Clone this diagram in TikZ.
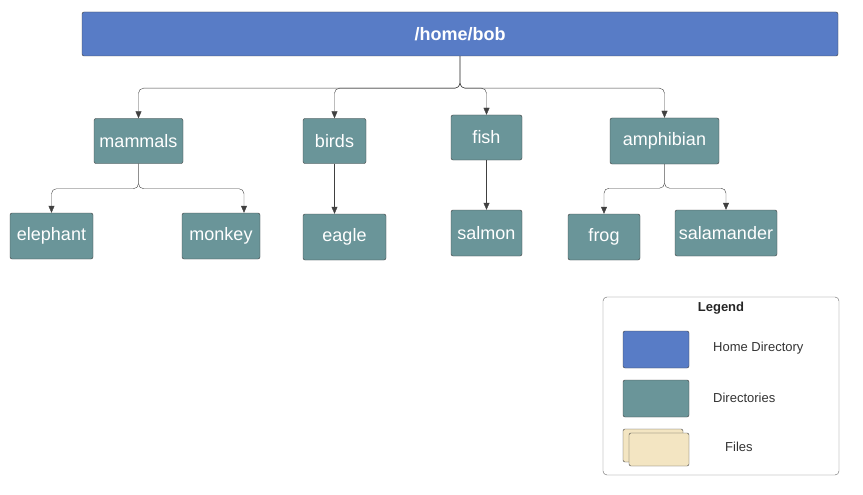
\documentclass[tikz,border=0pt]{standalone}
\usepackage{fontspec}
\setmainfont{Liberation Sans}
\usepackage{tikz}
\usetikzlibrary{arrows.meta,positioning}
\usepackage{xcolor}
\definecolor{homeblue}{HTML}{587CC6}
\definecolor{dirteal}{HTML}{6A9599}
\definecolor{filecream}{HTML}{F3E5C2}
\definecolor{edgegray}{HTML}{404040}

\begin{document}
\begin{tikzpicture}[
  x=1pt, y=-1pt,
  dir/.style={draw=edgegray, fill=dirteal, rounded corners=2pt, text=white, font=\fontsize{18}{20}\selectfont, minimum height=45pt, inner sep=0pt},
  homebox/.style={draw=edgegray, fill=homeblue, rounded corners=2pt, text=white, font=\fontsize{18}{20}\selectfont\bfseries, minimum width=756pt, minimum height=44pt},
  swatch/.style={draw=edgegray, rounded corners=2pt, minimum width=66pt, minimum height=37pt, inner sep=0pt},
  legtext/.style={text=black!80, font=\fontsize{13}{15}\selectfont, anchor=west, inner sep=0pt},
  arrow/.style={-{Triangle[length=7pt,width=6pt]}, draw=edgegray, rounded corners=5pt}
]
\useasboundingbox (0,0) rectangle (863,495);

% tree
\node[homebox] (home) at (460,34) {/home/bob};
\node[dir, minimum width=89pt] (mammals) at (138.5,141) {mammals};
\node[dir, minimum width=63pt] (birds) at (334.5,141) {birds};
\node[dir, minimum width=71pt] (fish) at (486.5,137.5) {fish};
\node[dir, minimum width=109pt, minimum height=46pt] (amphibian) at (664.5,141) {amphibian};
\node[dir, minimum width=83pt, minimum height=46pt] (elephant) at (51.5,236) {elephant};
\node[dir, minimum width=78pt, minimum height=46pt] (monkey) at (221,236) {monkey};
\node[dir, minimum width=83pt, minimum height=46pt] (eagle) at (344.5,237) {eagle};
\node[dir, minimum width=71pt, minimum height=46pt] (salmon) at (486.5,233) {salmon};
\node[dir, minimum width=72pt, minimum height=46pt] (frog) at (604,237) {frog};
\node[dir, minimum width=102pt, minimum height=46pt] (salamander) at (726,233) {salamander};

\draw[arrow] (home.south) -- ++(0,32) -| (mammals.north);
\draw[arrow] (home.south) -- ++(0,32) -| (birds.north);
\draw[arrow] (home.south) -- ++(0,32) -| (fish.north);
\draw[arrow] (home.south) -- ++(0,32) -| (amphibian.north);
\draw[arrow] (mammals.south) -- ++(0,25) -| (elephant.north);
\draw[arrow] (mammals.south) -- ++(0,25) -| ([xshift=23pt]monkey.north);
\draw[arrow] (birds.south) -- (birds.south |- eagle.north);
\draw[arrow] (fish.south) -- (salmon.north);
\draw[arrow] (amphibian.south) -- ++(0,24) -| (frog.north);
\draw[arrow] (amphibian.south) -- ++(0,24) -| (salamander.north);

% legend
\node[draw=black!60, rounded corners=4pt, minimum width=236pt, minimum height=178pt] (legend) at (721,386) {};
\node[font=\fontsize{13}{15}\selectfont\bfseries, text=black!85] (legtitle) at (721,308) {Legend};
\node[swatch, fill=homeblue] (keyhome) at (656,349.5) {};
\node[legtext] (labhome) at (713,348) {Home Directory};
\node[swatch, fill=dirteal] (keydir) at (656,398.5) {};
\node[legtext] (labdir) at (713,398) {Directories};
\node[swatch, fill=filecream, minimum width=60pt, minimum height=33pt] (keyfileback) at (653,445.5) {};
\node[swatch, fill=filecream, minimum width=60pt, minimum height=33pt] (keyfile) at (659,449.5) {};
\node[legtext] (labfile) at (725,447) {Files};
\end{tikzpicture}
\end{document}
